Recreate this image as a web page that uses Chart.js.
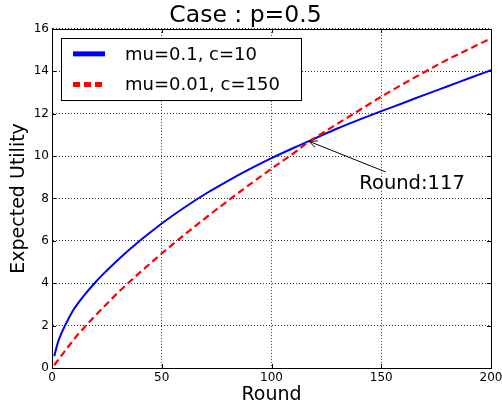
<!DOCTYPE html>
<html>
<head>
<meta charset="utf-8">
<title>Case : p=0.5</title>
<script src="https://cdn.jsdelivr.net/npm/chart.js@4.4.1/dist/chart.umd.min.js"></script>
<style>
  html, body { margin: 0; padding: 0; background: #fff; }
</style>
</head>
<body>
<canvas id="myChart" width="502" height="408"></canvas>
<script>
// values
const rounds = [1, 2, 3, 5, 7, 10, 12, 15, 20, 25, 30, 40, 50, 60, 70, 80, 90, 100, 110, 117, 120, 130, 140, 150, 160, 170, 180, 190, 200];
const utilMu01 = [0.55, 0.95, 1.3, 1.8, 2.22, 2.78, 3.07, 3.47, 4.07, 4.6, 5.1, 6.0, 6.82, 7.55, 8.22, 8.82, 9.38, 9.9, 10.38, 10.7, 10.84, 11.3, 11.72, 12.12, 12.5, 12.9, 13.28, 13.67, 14.05];
const utilMu001 = [0.13, 0.27, 0.41, 0.68, 0.95, 1.35, 1.6, 1.95, 2.5, 3.03, 3.55, 4.5, 5.4, 6.26, 7.08, 7.88, 8.65, 9.4, 10.13, 10.68, 10.87, 11.52, 12.16, 12.8, 13.4, 13.98, 14.54, 15.05, 15.55];
const seriesLabels = ['mu=0.1, c=10', 'mu=0.01, c=150'];
const xTicks = [0, 50, 100, 150, 200];
const yTicks = [0, 2, 4, 6, 8, 10, 12, 14, 16];

// annotation (data coordinates)
const crossRound = 117;
const crossValue = 10.7;
const crossText = 'Round:' + crossRound;
const crossTextAt = { x: 140, y: 8.43 };
const crossTailAt = { x: 152, y: 9.25 };

const FONT = "'DejaVu Sans', sans-serif";

const framePlugin = {
  id: 'frame',
  afterDraw(chart) {
    const { ctx, chartArea: a, scales: { x, y } } = chart;
    ctx.save();

    // inward tick marks on all four sides
    ctx.strokeStyle = '#000';
    ctx.lineWidth = 1;
    ctx.setLineDash([]);
    ctx.beginPath();
    xTicks.forEach(v => {
      const px = Math.round(x.getPixelForValue(v)) + 0.5;
      ctx.moveTo(px, a.bottom); ctx.lineTo(px, a.bottom - 4);
      ctx.moveTo(px, a.top); ctx.lineTo(px, a.top + 4);
    });
    yTicks.forEach(v => {
      const py = Math.round(y.getPixelForValue(v)) + 0.5;
      ctx.moveTo(a.left, py); ctx.lineTo(a.left + 4, py);
      ctx.moveTo(a.right, py); ctx.lineTo(a.right - 4, py);
    });
    ctx.stroke();

    // frame
    ctx.strokeRect(Math.round(a.left) + 0.5, Math.round(a.top) + 0.5,
      Math.round(a.right) - Math.round(a.left), Math.round(a.bottom) - Math.round(a.top));

    // annotation arrow
    const hx = x.getPixelForValue(crossRound), hy = y.getPixelForValue(crossValue);
    const tx = x.getPixelForValue(crossTailAt.x), ty = y.getPixelForValue(crossTailAt.y);
    const ang = Math.atan2(ty - hy, tx - hx);
    ctx.lineWidth = 1;
    ctx.beginPath();
    ctx.moveTo(tx, ty); ctx.lineTo(hx, hy);
    ctx.moveTo(hx + 9 * Math.cos(ang - 0.4), hy + 9 * Math.sin(ang - 0.4));
    ctx.lineTo(hx, hy);
    ctx.lineTo(hx + 9 * Math.cos(ang + 0.4), hy + 9 * Math.sin(ang + 0.4));
    ctx.stroke();

    ctx.fillStyle = '#000';
    ctx.font = '19.5px ' + FONT;
    ctx.textAlign = 'left';
    ctx.textBaseline = 'alphabetic';
    ctx.fillText(crossText, x.getPixelForValue(crossTextAt.x), y.getPixelForValue(crossTextAt.y));

    // legend box inside the plot
    const bx = a.left + 9, by = a.top + 9, bw = 240, bh = 62;
    ctx.fillStyle = '#fff';
    ctx.fillRect(bx, by, bw, bh);
    ctx.strokeRect(Math.round(bx) + 0.5, Math.round(by) + 0.5, bw, bh);
    ctx.font = '18px ' + FONT;
    ctx.textBaseline = 'middle';
    chart.data.datasets.forEach((ds, i) => {
      const ry = by + 16 + i * 30.7;
      ctx.strokeStyle = ds.borderColor;
      ctx.lineWidth = 5;
      ctx.setLineDash(ds.borderDash || []);
      ctx.beginPath();
      ctx.moveTo(bx + 12, ry); ctx.lineTo(bx + 44, ry);
      ctx.stroke();
      ctx.setLineDash([]);
      ctx.fillStyle = '#000';
      ctx.fillText(ds.label, bx + 64, ry + 1);
    });

    ctx.restore();
  }
};

const ctx = document.getElementById('myChart');
const myChart = new Chart(ctx, {
  type: 'line',
  data: {
    datasets: [{
      label: seriesLabels[0],
      data: rounds.map((r, i) => ({ x: r, y: utilMu01[i] })),
      borderColor: '#0000ff',
      borderWidth: 2,
      pointRadius: 0,
      cubicInterpolationMode: 'monotone',
      fill: false,
      order: 1
    }, {
      label: seriesLabels[1],
      data: rounds.map((r, i) => ({ x: r, y: utilMu001[i] })),
      borderColor: '#ff0000',
      borderWidth: 2.2,
      borderDash: [7, 4],
      pointRadius: 0,
      cubicInterpolationMode: 'monotone',
      fill: false,
      order: 0
    }]
  },
  options: {
    responsive: false,
    animation: false,
    devicePixelRatio: 1,
    layout: { padding: { left: 0, right: 11, top: 0, bottom: 0 } },
    scales: {
      x: {
        type: 'linear',
        min: 0,
        max: 200,
        afterBuildTicks: s => { s.ticks = xTicks.map(v => ({ value: v })); },
        afterFit: s => { s.height = 40; s.paddingLeft = 0; s.paddingRight = 0; },
        ticks: { color: '#000', font: { family: FONT, size: 12 }, padding: 3, maxRotation: 0 },
        grid: { color: 'rgba(0,0,0,0.8)', lineWidth: 1, drawTicks: false },
        border: { display: true, color: '#000', width: 1, dash: [1, 2] },
        title: { display: true, text: 'Round', color: '#000', font: { family: FONT, size: 19 }, padding: { top: 0, bottom: 2 } }
      },
      y: {
        type: 'linear',
        min: 0,
        max: 16,
        afterBuildTicks: s => { s.ticks = yTicks.map(v => ({ value: v })); },
        afterFit: s => { s.width = 52; },
        ticks: { color: '#000', font: { family: FONT, size: 12 }, padding: 3 },
        grid: { color: 'rgba(0,0,0,0.8)', lineWidth: 1, drawTicks: false },
        border: { display: true, color: '#000', width: 1, dash: [1, 2] },
        title: { display: true, text: 'Expected Utility', color: '#000', font: { family: FONT, size: 19 }, padding: { top: 8, bottom: 0 } }
      }
    },
    plugins: {
      legend: { display: false },
      tooltip: { enabled: false },
      title: {
        display: true,
        text: 'Case : p=0.5',
        color: '#000',
        font: { family: FONT, size: 23.5, weight: 'normal', lineHeight: 1.1 },
        padding: { top: 3, bottom: 0 }
      }
    }
  },
  plugins: [framePlugin]
});
</script>
</body>
</html>
